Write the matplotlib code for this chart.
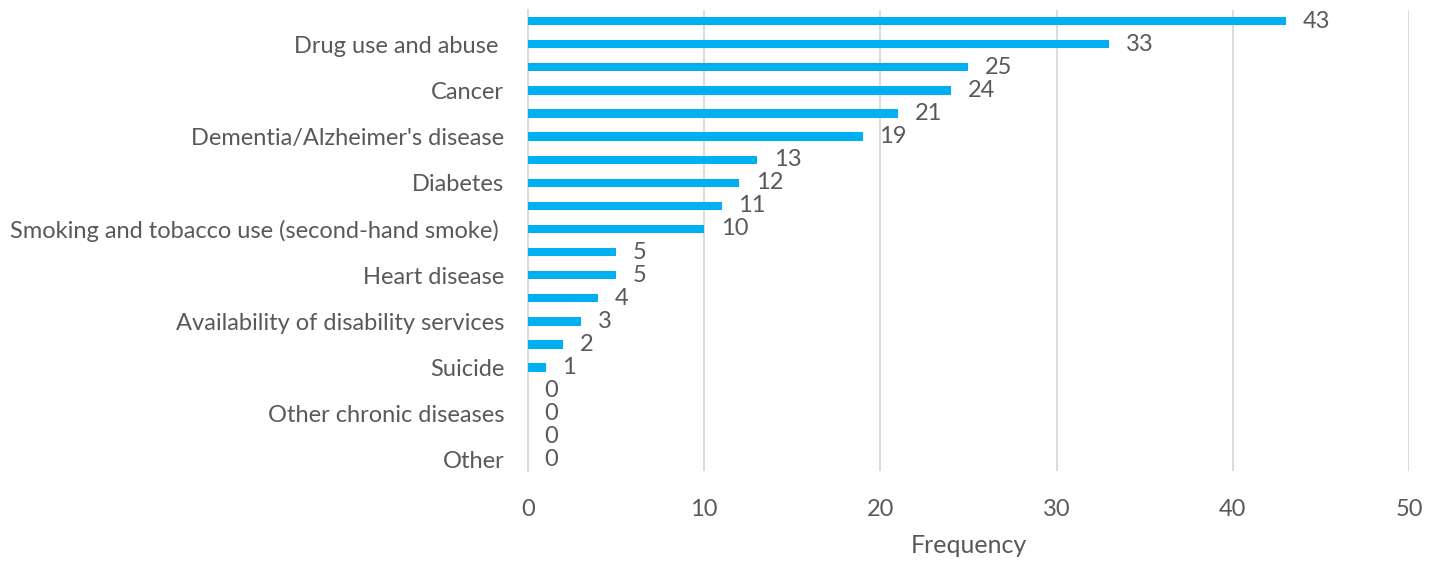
import matplotlib.pyplot as plt

# =========================
# DATA
# =========================
# only every second category name is printed in the original chart
categories = [
    "", "Drug use and abuse ", "", "Cancer", "", "Dementia/Alzheimer's disease",
    "", "Diabetes", "", "Smoking and tobacco use (second-hand smoke) ",
    "", "Heart disease", "", "Availability of disability services",
    "", "Suicide", "", "Other chronic diseases", "", "Other",
]
frequency = [43, 33, 25, 24, 21, 19, 13, 12, 11, 10, 5, 5, 4, 3, 2, 1, 0, 0, 0, 0]
x_ticks = [0, 10, 20, 30, 40, 50]

BAR = "#00B0F0"
TXT = "#595959"
GRID = "#D9D9D9"

plt.rcParams["font.family"] = ["Lato", "DejaVu Sans"]

fig = plt.figure(figsize=(14.37, 5.61), dpi=100)
ax = fig.add_axes([0.3674, 0.1604, 0.6131, 0.8218])

pos = list(range(len(frequency)))
ax.barh(pos, frequency, height=0.36, color=BAR, zorder=3)

for y, v in zip(pos, frequency):
    ax.annotate(str(v), (v, y), xytext=(12, 0), textcoords="offset points",
                ha="left", va="center", fontsize=17, color=TXT)

ax.set_xlim(0, 50)
ax.set_ylim(19.48, -0.48)
ax.set_xticks(x_ticks)
ax.set_yticks(pos)
ax.set_yticklabels(categories)
ax.tick_params(axis="both", length=0, labelsize=17, colors=TXT)
ax.tick_params(axis="x", pad=20)
ax.tick_params(axis="y", pad=17)

ax.grid(axis="x", color=GRID, linewidth=1.3, zorder=0)
for s in ["top", "right", "bottom"]:
    ax.spines[s].set_visible(False)
ax.spines["left"].set_color(GRID)
ax.spines["left"].set_linewidth(1.3)

ax.set_xlabel("Frequency", fontsize=18, color=TXT, labelpad=10)

fig.savefig("out.png", dpi=100)
